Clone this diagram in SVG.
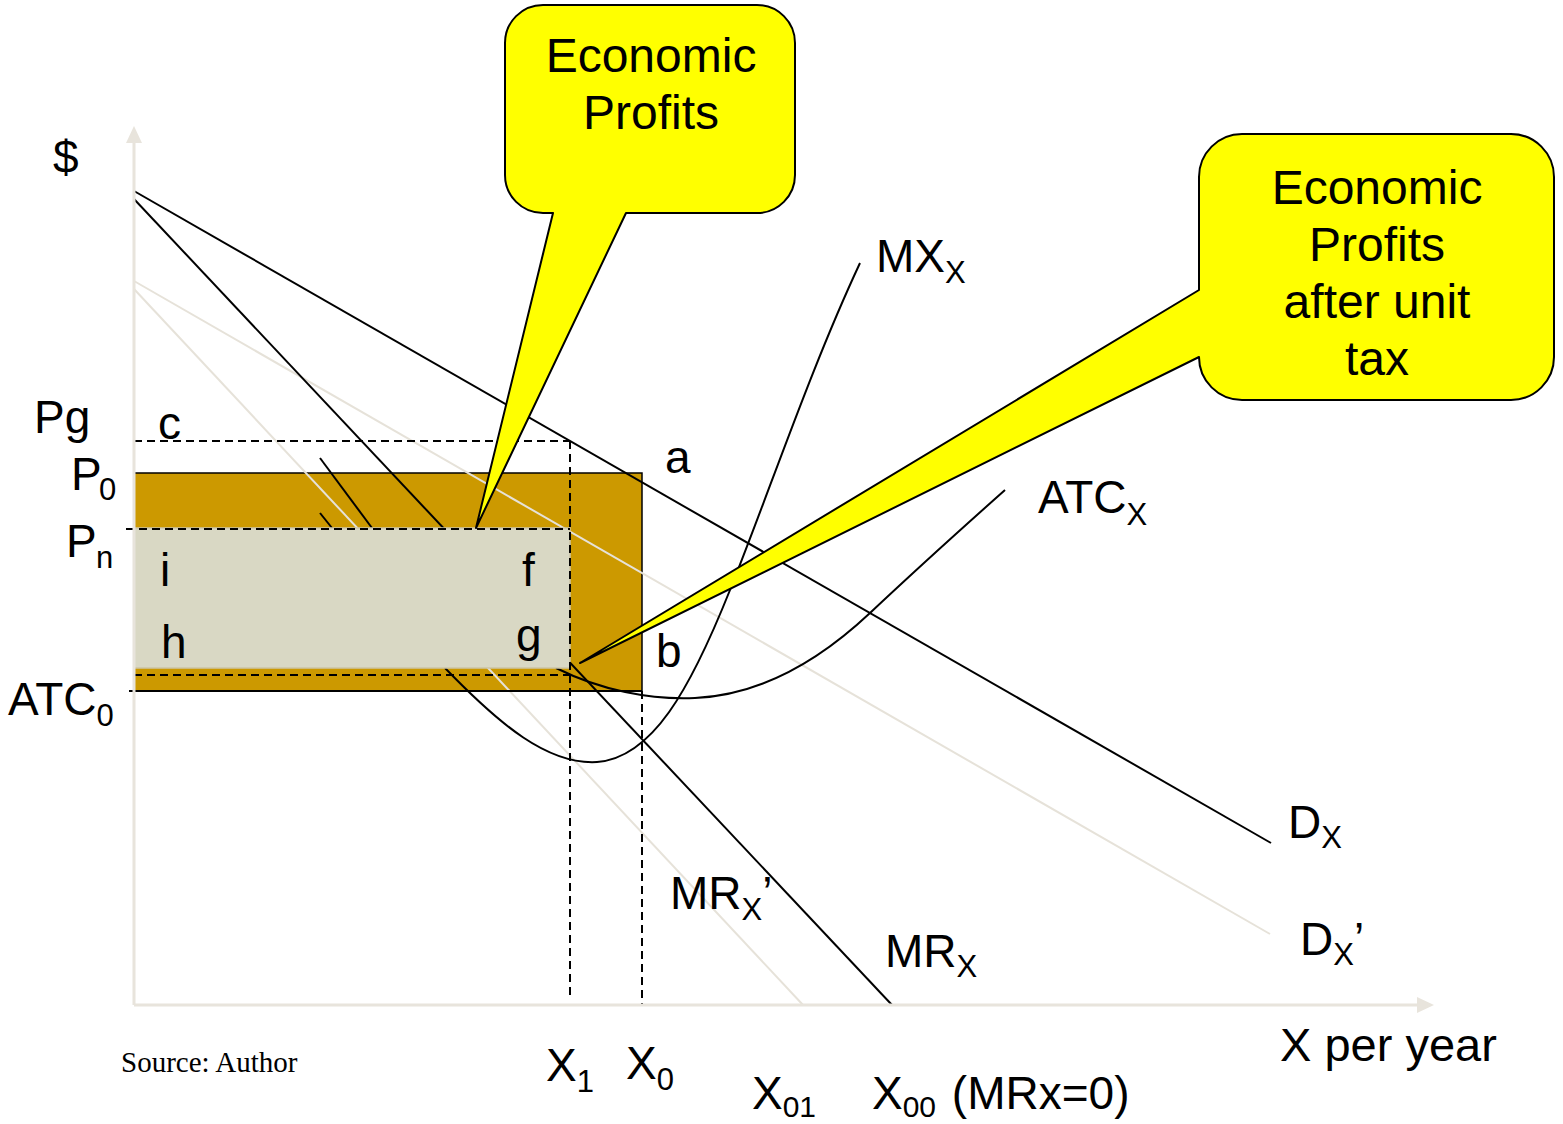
<svg xmlns="http://www.w3.org/2000/svg" width="1563" height="1124" viewBox="0 0 1563 1124">
<style>
.t{font-family:"Liberation Sans",Arial,sans-serif;font-size:46px;fill:#000}
.s{font-size:31px}
.s2{font-size:30px}
.cal{fill:#FFFF00;stroke:#000;stroke-width:2;stroke-linejoin:round}
.ct{font-family:"Liberation Sans",Arial,sans-serif;font-size:48px;fill:#000;text-anchor:middle}
.blk{fill:none;stroke:#000;stroke-width:2}
.lt{fill:none;stroke:#E6E2D9;stroke-width:2}
.dash{fill:none;stroke:#000;stroke-width:2;stroke-dasharray:8,5}
.axis{fill:none;stroke:#E8E4DC;stroke-width:3}
</style>
<rect width="1563" height="1124" fill="#fff"/>
<g id="profit-area">
<rect x="134" y="473" width="508" height="218" fill="#CC9900" stroke="#000" stroke-width="1.5"/>
</g>
<g id="connectors">
<line class="lt" x1="134" y1="281" x2="1270" y2="934"/>
<line class="lt" x1="134" y1="289" x2="803" y2="1005"/>
<line class="blk" x1="134" y1="191" x2="1271" y2="843"/>
<line class="blk" x1="134" y1="199" x2="892" y2="1005"/>
<line class="blk" x1="320" y1="458" x2="372" y2="528"/>
<line class="blk" x1="320" y1="513" x2="332" y2="528"/>
<path class="blk" d="M445,668 C500,725 548,765 597,762 C652,758 690,690 730,590 C770,490 810,370 860,263"/>
<path class="blk" d="M556,668 C600,690 650,700 695,698 C760,695 820,660 870,613 C920,566 960,530 1005,490"/>
</g>
<g id="after-tax-area">
<rect x="134" y="528" width="436" height="140" fill="#D9D8C4" stroke="#CBC5A6" stroke-width="1.5"/>
</g>
<g id="guides">
<line class="dash" x1="134" y1="441" x2="570" y2="441"/>
<line class="dash" x1="126" y1="529" x2="570" y2="529"/>
<line class="dash" x1="134" y1="675" x2="570" y2="675"/>
<line class="dash" x1="570" y1="441" x2="570" y2="998"/>
<line class="dash" x1="642" y1="691" x2="642" y2="1005"/>
<line x1="129" y1="691" x2="642" y2="691" stroke="#000" stroke-width="2"/>
</g>
<g id="axes">
<line class="axis" x1="134" y1="1005" x2="134" y2="140"/>
<polygon points="134,126 142,143 126,143" fill="#E8E4DC"/>
<line class="axis" x1="134" y1="1005" x2="1420" y2="1005"/>
<polygon points="1434,1005 1417,997 1417,1013" fill="#E8E4DC"/>
</g>
<g id="callout-economic-profits">
<path class="cal" d="M543,5 H757 A38,38 0 0 1 795,43 V175 A38,38 0 0 1 757,213 H626 L476,528 L553,213 H543 A38,38 0 0 1 505,175 V43 A38,38 0 0 1 543,5 Z"/>
<text class="ct" x="651" y="72">Economic</text>
<text class="ct" x="651" y="129">Profits</text>
</g>
<g id="callout-after-tax">
<path class="cal" d="M1242,134 H1511 A43,43 0 0 1 1554,177 V357 A43,43 0 0 1 1511,400 H1242 A43,43 0 0 1 1199,357 L580,663 L1199,290 V177 A43,43 0 0 1 1242,134 Z"/>
<text class="ct" x="1377" y="204">Economic</text>
<text class="ct" x="1377" y="261">Profits</text>
<text class="ct" x="1377" y="318">after unit</text>
<text class="ct" x="1377" y="375">tax</text>
</g>
<g id="labels">
<text class="t" x="53" y="173">$</text>
<text class="t" x="34" y="433">Pg</text>
<text class="t" x="158" y="439">c</text>
<text class="t" x="71" y="490">P<tspan class="s" x="99" y="500">0</tspan></text>
<text class="t" x="66" y="557">P<tspan class="s" x="96" y="568">n</tspan></text>
<text class="t" x="8" y="715">ATC<tspan class="s" y="726">0</tspan></text>
<text class="t" x="160" y="586">i</text>
<text class="t" x="522" y="586">f</text>
<text class="t" x="161" y="658">h</text>
<text class="t" x="516" y="651">g</text>
<text class="t" x="665" y="473">a</text>
<text class="t" x="656" y="667">b</text>
<text class="t" x="876" y="272">MX<tspan class="s" y="283">X</tspan></text>
<text class="t" x="1038" y="513">ATC<tspan class="s" y="525">X</tspan></text>
<text class="t" x="1288" y="838">D<tspan class="s" y="848">X</tspan></text>
<text class="t" x="1300" y="955">D<tspan class="s" y="965">X</tspan><tspan y="955">’</tspan></text>
<text class="t" x="670" y="909">MR<tspan class="s" y="920">X</tspan><tspan y="909">’</tspan></text>
<text class="t" x="885" y="967">MR<tspan class="s" y="977">X</tspan></text>
<text class="t" x="1280" y="1061" style="font-size:47px">X per year</text>
<text class="t" x="546" y="1081">X<tspan class="s" y="1092">1</tspan></text>
<text class="t" x="626" y="1079">X<tspan class="s" y="1090">0</tspan></text>
<text class="t" x="752" y="1109">X<tspan class="s2" y="1117">01</tspan></text>
<text class="t" x="872" y="1109">X<tspan class="s2" y="1117">00</tspan><tspan y="1109" dx="3"> (MRx=0)</tspan></text>
<text x="121" y="1072" font-family="'Liberation Serif','Times New Roman',serif" font-size="29" fill="#000">Source: Author</text>
</g>
</svg>
